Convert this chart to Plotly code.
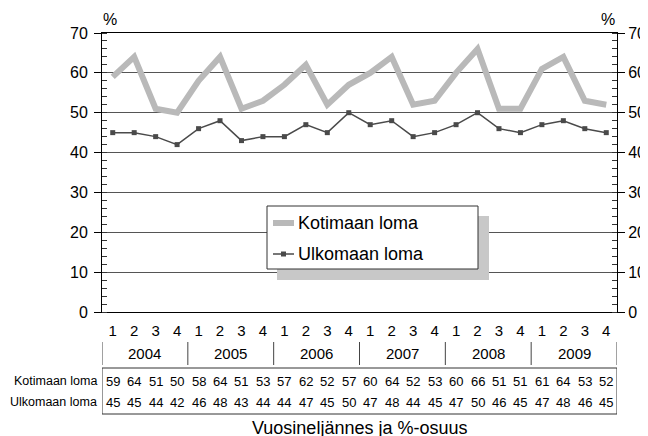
import plotly.graph_objects as go

quarters = ["1", "2", "3", "4"] * 6
years = ["2004", "2005", "2006", "2007", "2008", "2009"]
kotimaan = [59, 64, 51, 50, 58, 64, 51, 53, 57, 62, 52, 57, 60, 64, 52, 53, 60, 66, 51, 51, 61, 64, 53, 52]
ulkomaan = [45, 45, 44, 42, 46, 48, 43, 44, 44, 47, 45, 50, 47, 48, 44, 45, 47, 50, 46, 45, 47, 48, 46, 45]
series_names = ["Kotimaan loma", "Ulkomaan loma"]

# page is shown with an 8px body margin; reference coordinates below are page pixels
OFF = 8
W, H = 648 - OFF, 436 - OFF
L, R, T, B = 102, 617, 33, 312
FONT = "Liberation Sans, Arial, sans-serif"
GRAY = "#b9b9b9"
DARK = "#4a4a4a"


def px(x):
    return (x - L) / (R - L)


def py(y):
    return (B - y) / (B - T)


xs = list(range(len(kotimaan)))

fig = go.Figure()
fig.add_trace(go.Scatter(x=xs, y=kotimaan, mode="lines", name=series_names[0],
                         line=dict(color=GRAY, width=6), showlegend=False))
fig.add_trace(go.Scatter(x=xs, y=ulkomaan, mode="lines+markers", name=series_names[1],
                         line=dict(color=DARK, width=1.5),
                         marker=dict(symbol="square", size=5, color=DARK), showlegend=False))
# invisible trace on right axis so it shows
fig.add_trace(go.Scatter(x=xs, y=ulkomaan, yaxis="y2", mode="lines", opacity=0,
                         showlegend=False, hoverinfo="skip"))

yax = dict(range=[0, 70], dtick=10, tick0=0, showline=True, linecolor="black", linewidth=1,
           ticks="outside", ticklen=7, tickcolor="black", tickwidth=1, automargin=False,
           minor=dict(ticks="inside", ticklen=5, dtick=2, tickcolor="#333", showgrid=False),
           tickfont=dict(family=FONT, size=16, color="black"), zeroline=False)

fig.update_layout(
    width=W, height=H,
    margin=dict(l=L - OFF, r=W - (R - OFF), t=T - OFF, b=H - (B - OFF), pad=0),
    paper_bgcolor="white", plot_bgcolor="white",
    showlegend=False,
    xaxis=dict(range=[-0.5, len(xs) - 0.5], tickvals=xs, ticktext=quarters, ticks="",
               showgrid=False, showline=True, linecolor="black", linewidth=1, mirror=True,
               zeroline=False, automargin=False, ticklabelstandoff=5,
               tickfont=dict(family=FONT, size=15, color="black")),
    yaxis=dict(**yax, side="left", showgrid=True, gridcolor="#555", gridwidth=1,
               ticklabelstandoff=3),
    yaxis2=dict(**yax, side="right", overlaying="y", showgrid=False, ticklabelstandoff=0),
)


def text(t, x, y, xref="paper", size=16, xanchor="center", family=FONT):
    return dict(text=t, x=x, y=y, xref=xref, yref="paper", showarrow=False,
                xanchor=xanchor, yanchor="middle",
                font=dict(family=family, size=size, color="black"))


ann = []
# % labels
ann.append(text("%", px(110), py(20)))
ann.append(text("%", px(608), py(20)))

shapes = []
# year labels and separators
for i, yr in enumerate(years):
    ann.append(text(yr, 4 * i + 1.5, py(353), xref="x", size=15))
for i in range(len(years) + 1):
    xv = 4 * i - 0.5
    shapes.append(dict(type="line", xref="x", yref="paper", x0=xv, x1=xv, y0=py(342), y1=py(365),
                       line=dict(color="#444", width=1)))

# table
shapes.append(dict(type="rect", xref="x", yref="paper", x0=-0.5, x1=len(xs) - 0.5,
                   y0=py(368), y1=py(414), line=dict(color="#333", width=1)))
for row_y, name, vals in [(381, series_names[0], kotimaan), (402, series_names[1], ulkomaan)]:
    ann.append(text(name, px(99), py(row_y), size=12.5, xanchor="right"))
    for i, v in enumerate(vals):
        ann.append(text(str(v), i, py(row_y), xref="x", size=13))

# axis title
ann.append(text("Vuosineljännes ja %-osuus", 0.5, py(428), size=18))

# legend (manual, with shadow)
shapes.append(dict(type="rect", xref="paper", yref="paper", x0=px(277), x1=px(489), y0=py(216),
                   y1=py(280), fillcolor="#c8c8c8", line=dict(width=0), layer="above"))
shapes.append(dict(type="rect", xref="paper", yref="paper", x0=px(267), x1=px(478), y0=py(206),
                   y1=py(269), fillcolor="white", line=dict(color="#333", width=1), layer="above"))
shapes.append(dict(type="line", xref="paper", yref="paper", x0=px(273), x1=px(294), y0=py(223),
                   y1=py(223), line=dict(color=GRAY, width=6), layer="above"))
shapes.append(dict(type="line", xref="paper", yref="paper", x0=px(273), x1=px(294), y0=py(254),
                   y1=py(254), line=dict(color=DARK, width=1.5), layer="above"))
shapes.append(dict(type="rect", xref="paper", yref="paper", x0=px(281), x1=px(286), y0=py(251.5),
                   y1=py(256.5), fillcolor=DARK, line=dict(width=0), layer="above"))
for yy, name in [(223, series_names[0]), (254, series_names[1])]:
    ann.append(text(name, px(296), py(yy), size=18, xanchor="left"))

fig.update_layout(annotations=ann, shapes=shapes)
fig.write_html("out.html")
